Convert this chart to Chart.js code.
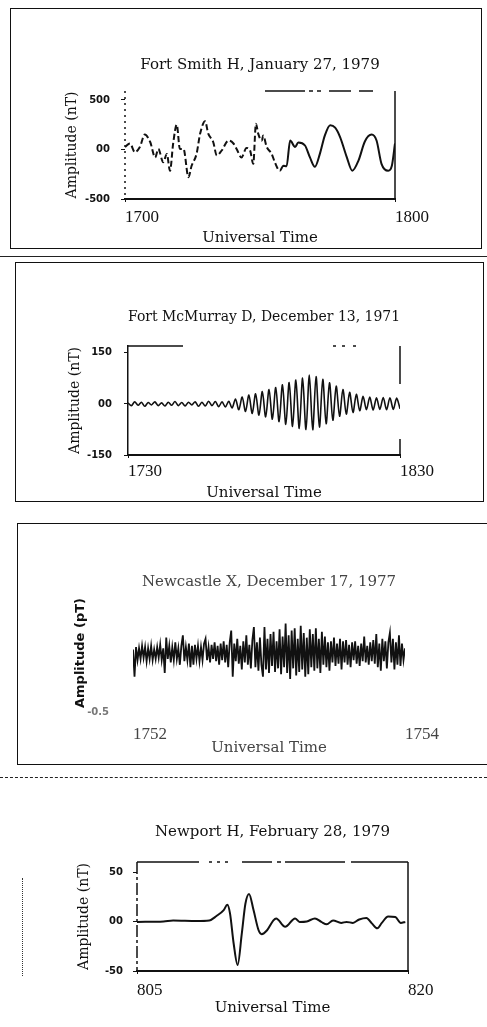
<!DOCTYPE html>
<html><head><meta charset="utf-8">
<script src="https://cdn.jsdelivr.net/npm/chart.js@4/dist/chart.umd.min.js"></script>
<style>
body{margin:0;width:487px;height:1027px;overflow:hidden;background:#fff;position:relative}
canvas{position:absolute;left:0}
.frame{position:absolute;border:1.5px solid #111}
.rule{position:absolute;left:0;width:487px;border-top:1.5px dashed #222}
</style></head><body>
<div class="frame" style="left:10px;top:8px;width:470px;height:239px"></div>
<div class="rule" style="top:256px;border-top-style:solid"></div>
<div class="frame" style="left:15px;top:262px;width:467px;height:238px"></div>
<div class="frame" style="left:17px;top:523px;width:480px;height:240px;border-right:none"></div>
<div class="rule" style="top:777px"></div>
<div style="position:absolute;left:22px;top:878px;height:98px;border-left:1.5px dotted #333"></div>
<canvas id="c1" width="487" height="197" style="top:50px"></canvas>
<canvas id="c2" width="487" height="207" style="top:295px"></canvas>
<canvas id="c3" width="487" height="197" style="top:560px"></canvas>
<canvas id="c4" width="487" height="207" style="top:810px"></canvas>
<script>
// Fort Smith H, 27 janvier 1979 (minutes après 17:00, nT)
const fsTimes = [0, 1.1, 2.2, 3.3, 4.4, 5.6, 6.7, 7.4, 8.5, 9.3, 10, 10.7, 11.5, 12.2, 13, 14.1, 14.8, 15.9, 16.7, 17.8,
  18.5, 19.6, 20.4, 21.5, 23, 24.1, 24.8, 25.9, 27, 27.8, 28.5, 29.1, 29.6, 30.4, 30.7, 31.5, 32.6, 33.3, 34.4, 35.2,
  35.9, 36.7, 37.8, 38.5, 40, 41.1, 42.2, 43.3, 44.4, 45.6, 46.7, 47.8, 49.3, 50.5, 51.9, 53.3, 54.8, 55.9, 57, 58.5, 59.3, 60];
const fsValues = [25, 60, -27, 25, 150, 75, -80, 5, -130, -45, -215, 60, 250, 5, 5, -280, -165, -45, 160, 285,
  160, 75, -60, -10, 90, 60, 5, -80, 15, -10, -145, 260, 160, 90, 140, 25, -45, -130, -215, -165,
  -170, 90, 25, 70, 40, -80, -175, -45, 140, 245, 220, 125, -80, -215, -110, 80, 150, 90, -145, -215, -165, 60];
const fsXTicks = [0, 60], fsXLabels = ['1700', '1800'];
const fsYTicks = [-500, 0, 500], fsYLabels = ['-500', '00', '500'];

// Fort McMurray D, 13 décembre 1971 (échantillons réguliers, nT)
const fmStep = 60 / 81;
const fmValues = [3, -5, 6, -4, 5, -7, 4, -3, 6, -5, 3, -6, 5, -4, 7, -5, 4, -6, 5, -3,
  6, -7, 5, -6, 8, -5, 7, -8, 6, -9, 8, -12, 14, -17, 20, -22, 26, -28, 30, -33,
  36, -38, 42, -45, 48, -52, 56, -60, 63, -66, 70, -72, 76, -75, 85, -76, 80, -68, 72, -58,
  62, -48, 52, -36, 42, -30, 34, -25, 28, -20, 22, -17, 20, -18, 18, -16, 19, -17, 18, -16, 17, -14];
const fmXTicks = [0, 60], fmXLabels = ['1730', '1830'];
const fmYTicks = [-150, 0, 150], fmYLabels = ['-150', '00', '150'];

// Newcastle X, 17 décembre 1977 (pT)
const ncStep = 2 / 180;
const ncValues = [0.03, -0.2, 0.05, -0.06, 0.04, -0.05, 0.06, -0.04, 0.05, -0.07, 0.04, -0.05, 0.06, -0.06, 0.03, -0.05, 0.05, -0.04, 0.07, -0.06,
  0.04, -0.17, 0.13, -0.05, 0.06, -0.08, 0.05, -0.06, 0.09, -0.05, 0.04, -0.1, 0.06, 0.15, -0.07, 0.05, -0.06, 0.08, -0.12, 0.06,
  -0.1, 0.07, -0.05, 0.06, -0.07, 0.05, -0.06, 0.08, 0.12, -0.06, 0.05, -0.08, 0.07, -0.05, 0.09, -0.07, 0.06, -0.1, 0.08, -0.06,
  0.1, -0.08, 0.07, -0.12, 0.09, 0.19, -0.2, 0.08, -0.07, 0.12, -0.09, 0.06, -0.14, 0.1, -0.08, 0.15, -0.1, 0.07, -0.13, 0.11,
  0.22, -0.12, 0.09, -0.15, 0.13, -0.1, -0.2, 0.22, -0.14, 0.12, -0.17, 0.16, -0.11, 0.18, -0.16, 0.1, -0.13, 0.2, -0.18, 0.14,
  -0.12, 0.25, -0.17, 0.15, -0.22, 0.19, -0.13, 0.21, -0.19, 0.12, -0.16, 0.23, -0.14, 0.17, -0.2, 0.13, -0.18, 0.2, -0.12, 0.16,
  -0.15, 0.21, -0.13, 0.12, -0.17, 0.18, -0.1, 0.14, -0.12, 0.09, -0.15, 0.1, -0.08, 0.13, -0.11, 0.08, -0.09, 0.12, -0.14, 0.1,
  -0.08, 0.11, -0.1, 0.07, -0.12, 0.09, -0.06, 0.1, -0.09, 0.06, -0.11, 0.08, -0.07, 0.14, -0.08, 0.06, -0.1, 0.09, -0.07, 0.11,
  -0.09, 0.16, -0.12, 0.08, -0.15, 0.12, -0.07, 0.1, -0.13, 0.09, 0.17, -0.08, 0.12, -0.14, 0.09, -0.1, 0.15, -0.11, 0.08, -0.06, 0.04];
const ncXTicks = [0, 2], ncXLabels = ['1752', '1754'];
const ncYTicks = [-0.5], ncYLabels = ['-0.5'];

// Newport H, 28 février 1979 (minutes après 8:05, nT)
const npTimes = [0, 1.47, 2.0, 3.3, 4.0, 4.4, 4.8, 5.0, 5.15, 5.35, 5.57, 5.8, 6.0, 6.2, 6.45, 6.73, 6.9, 7.2, 7.55, 7.7,
  8.2, 8.75, 9.0, 9.4, 9.85, 10.2, 10.5, 10.85, 11.3, 11.6, 11.95, 12.3, 12.7, 13.0, 13.3, 13.55, 13.9, 14.3, 14.6, 14.85];
const npValues = [0, 0.5, 1.5, 1, 1.5, 6, 12, 17.5, 8.5, -22, -44, -12, 18.5, 28.5, 12, -8.5, -12.5, -8.5, 1.5, 3.5,
  -5, 3.5, 0, 0.5, 3.5, 0, -2.5, 1.5, -1, 0, -1, 2.5, 4, -1.5, -6.5, -1, 5.5, 5, -1, 0];
const npXTicks = [0, 15], npXLabels = ['805', '820'];
const npYTicks = [-50, 0, 50], npYLabels = ['-50', '00', '50'];

const SERIF = "'DejaVu Serif', serif";
const INK = '#111';

// cadre du graphique : bords haut / gauche / droite en pointillés (border.dash ne touche que la grille)
const edges = {
  id: 'edges',
  afterDatasetsDraw(chart, args, opts) {
    const { ctx, chartArea: a } = chart;
    const sides = { top: [a.left, a.top, a.right, a.top], left: [a.left, a.top, a.left, a.bottom], right: [a.right, a.top, a.right, a.bottom] };
    ctx.save();
    ctx.strokeStyle = INK; ctx.lineWidth = 1.5;
    Object.entries(sides).forEach(([k, p]) => {
      if (!opts[k]) return;
      ctx.setLineDash(opts[k]);
      ctx.beginPath(); ctx.moveTo(p[0], p[1]); ctx.lineTo(p[2], p[3]); ctx.stroke();
    });
    ctx.restore();
  },
};

function panel(id, o) {
  const faint = o.faint ? '#444' : INK;
  return new Chart(document.getElementById(id), {
    type: 'line',
    plugins: [edges],
    data: { datasets: [{
      data: o.times.map((t, i) => ({ x: t, y: o.values[i] })),
      borderColor: INK, borderWidth: o.lw, pointRadius: 0,
      tension: o.tension || 0, cubicInterpolationMode: o.mono ? 'monotone' : 'default',
      segment: o.segment || {},
    }] },
    options: {
      responsive: false, animation: false, events: [],
      layout: { padding: { left: o.padL, right: o.padR, top: 0, bottom: 0 } },
      plugins: {
        legend: { display: false }, tooltip: { enabled: false },
        edges: o.edges || {},
        title: { display: true, text: o.title, fullSize: false, color: faint,
          font: { family: SERIF, size: 15, weight: 'normal', lineHeight: 1.2 }, padding: { top: o.tTop, bottom: o.tBot } },
      },
      scales: {
        x: {
          type: 'linear', min: o.xTicks[0], max: o.xTicks[o.xTicks.length - 1],
          afterBuildTicks: (s) => { s.ticks = o.xTicks.map((v) => ({ value: v })); },
          afterFit: (s) => { s.height = o.xH; },
          ticks: { align: 'start', padding: o.xPad, color: faint, font: { family: "'Liberation Serif', serif", size: 17 },
            callback: (v, i) => o.xLabels[i] },
          grid: { display: !o.noAxes, drawOnChartArea: false, tickLength: 3, color: INK },
          border: { display: !o.noAxes, color: INK, width: 2 },
          title: { display: true, text: 'Universal Time', color: faint, font: { family: SERIF, size: 15, lineHeight: 1.2 }, padding: 0 },
        },
        y: {
          min: o.yMin, max: o.yMax,
          afterBuildTicks: (s) => { s.ticks = o.yTicks.map((v) => ({ value: v })); },
          afterFit: (s) => { s.width = o.yW; },
          ticks: { padding: o.yPad, color: o.faint ? '#777' : INK, font: { family: "'DejaVu Sans', sans-serif", size: 10, weight: 'bold' },
            callback: (v, i) => o.yLabels[i] },
          grid: { display: !o.noAxes, drawOnChartArea: false, tickLength: 4, color: INK },
          border: { display: !o.noAxes && !o.edges?.left, color: INK, width: 1.5 },
          title: { display: true, text: o.yTitle, color: INK, font: o.yFont || { family: SERIF, size: 14, lineHeight: 1.2 }, padding: 0 },
        },
      },
    },
  });
}

panel('c1', {
  times: fsTimes, values: fsValues, lw: 2, mono: true,
  segment: { borderDash: (c) => (c.p1.parsed.x <= 34.4 ? [6, 3] : undefined) },
  title: 'Fort Smith H, January 27, 1979', tTop: 6, tBot: 17,
  xTicks: fsXTicks, xLabels: fsXLabels, xH: 48, xPad: 5,
  yTicks: fsYTicks, yLabels: fsYLabels, yMin: -500, yMax: 590, yW: 61.4, yPad: 11,
  yTitle: 'Amplitude (nT)', padL: 63.6, padR: 92,
  edges: { left: [2, 4], top: [0, 140, 40, 4, 4, 4, 4, 8, 22, 8, 14, 200], right: [] },
});

panel('c2', {
  times: fmValues.map((_, i) => i * fmStep), values: fmValues, lw: 1.6, tension: 0.3,
  title: 'Fort McMurray D, December 13, 1971', tTop: 13, tBot: 20,
  xTicks: fmXTicks, xLabels: fmXLabels, xH: 47, xPad: 3,
  yTicks: fmYTicks, yLabels: fmYLabels, yMin: -150, yMax: 170, yW: 61.4, yPad: 12,
  yTitle: 'Amplitude (nT)', padL: 66.6, padR: 87,
  edges: { top: [55, 150, 3, 6, 3, 8, 3, 200], right: [38, 55, 16, 200] },
});

panel('c3', {
  times: ncValues.map((_, i) => i * ncStep), values: ncValues, lw: 1.8, faint: true, noAxes: true,
  title: 'Newcastle X, December 17, 1977', tTop: 13, tBot: 3,
  xTicks: ncXTicks, xLabels: ncXLabels, xH: 45, xPad: 9,
  yTicks: ncYTicks, yLabels: ncYLabels, yMin: -0.5, yMax: 0.5, yW: 59.8, yPad: 20,
  yTitle: 'Amplitude (pT)', yFont: { family: "'DejaVu Sans', sans-serif", size: 13, weight: 'bold', lineHeight: 1.2 },
  padL: 73.2, padR: 82,
});

panel('c4', {
  times: npTimes, values: npValues, lw: 2, mono: true,
  title: 'Newport H, February 28, 1979', tTop: 13, tBot: 21,
  xTicks: npXTicks, xLabels: npXLabels, xH: 46, xPad: 6,
  yTicks: npYTicks, yLabels: npYLabels, yMin: -50, yMax: 61, yW: 61.4, yPad: 10,
  yTitle: 'Amplitude (nT)', padL: 75.6, padR: 79,
  edges: { left: [12, 3, 3, 3], top: [62, 10, 3, 5, 3, 5, 3, 14, 30, 5, 4, 4, 60, 6], right: [] },
});
</script>
</body></html>
